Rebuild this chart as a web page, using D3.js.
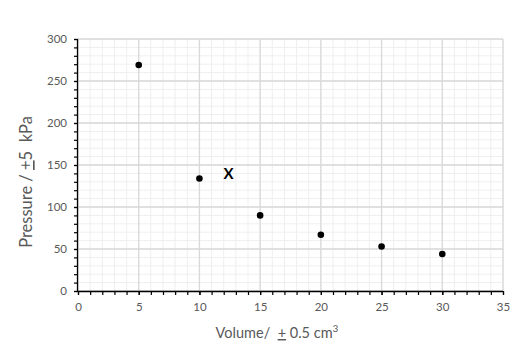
<!DOCTYPE html>
<html>
<head>
<meta charset="utf-8">
<script src="https://cdn.jsdelivr.net/npm/d3@7"></script>
<style>
  html, body { margin: 0; padding: 0; background: #fff; }
  svg { display: block; }
  text { font-family: Lato, "Open Sans", sans-serif; fill: #595959; }
  .title { white-space: pre; }
</style>
</head>
<body>
<svg id="chart" width="528" height="345"></svg>
<script>
// Volume (cm³) and pressure (kPa) readings
const volume = [5, 10, 15, 20, 25, 30];
const pressure = [269, 134, 90, 67, 53, 44];
const xTicks = [0, 5, 10, 15, 20, 25, 30, 35];
const yTicks = [0, 50, 100, 150, 200, 250, 300];
// Anomalous point marker
const anomaly = [{ v: 12.4, p: 141, label: "X" }];

const svg = d3.select("#chart");
const plotLeft = 78, plotRight = 503, plotTop = 39, plotBottom = 291;

const x = d3.scaleLinear().domain([0, 35]).range([plotLeft, plotRight]);
const y = d3.scaleLinear().domain([0, 300]).range([plotBottom, plotTop]);

const xMinor = d3.range(0, 36, 1);
const yMinor = d3.range(0, 301, 10);

// minor grid
const grid = svg.append("g");
grid.append("g").selectAll("line").data(xMinor).join("line")
  .attr("x1", d => x(d)).attr("x2", d => x(d))
  .attr("y1", plotTop).attr("y2", plotBottom)
  .attr("stroke", "#efefef").attr("stroke-width", 1);
grid.append("g").selectAll("line").data(yMinor).join("line")
  .attr("x1", plotLeft).attr("x2", plotRight)
  .attr("y1", d => y(d)).attr("y2", d => y(d))
  .attr("stroke", "#efefef").attr("stroke-width", 1);
// major grid
grid.append("g").selectAll("line").data(xTicks).join("line")
  .attr("x1", d => x(d)).attr("x2", d => x(d))
  .attr("y1", plotTop).attr("y2", plotBottom)
  .attr("stroke", "#d9d9d9").attr("stroke-width", 1.3);
grid.append("g").selectAll("line").data(yTicks).join("line")
  .attr("x1", plotLeft).attr("x2", plotRight)
  .attr("y1", d => y(d)).attr("y2", d => y(d))
  .attr("stroke", "#d9d9d9").attr("stroke-width", 1.3);

// minor ticks
const xMinorAxis = d3.axisBottom(x).tickValues(xMinor).tickSize(4).tickFormat("");
const yMinorAxis = d3.axisLeft(y).tickValues(yMinor).tickSize(4).tickFormat("");
svg.append("g").attr("transform", `translate(0,${plotBottom})`).call(xMinorAxis)
  .call(g => g.select(".domain").remove())
  .selectAll("line").attr("stroke", "#000").attr("stroke-width", 1.2);
svg.append("g").attr("transform", `translate(${plotLeft},0)`).call(yMinorAxis)
  .call(g => g.select(".domain").remove())
  .selectAll("line").attr("stroke", "#000").attr("stroke-width", 1.2);

// main axes
const xAxis = d3.axisBottom(x).tickValues(xTicks).tickSize(4).tickPadding(8);
const yAxis = d3.axisLeft(y).tickValues(yTicks).tickSize(4).tickPadding(7);
const gx = svg.append("g").attr("transform", `translate(0,${plotBottom})`).call(xAxis);
const gy = svg.append("g").attr("transform", `translate(${plotLeft},0)`).call(yAxis);
[gx, gy].forEach(g => {
  g.select(".domain").attr("stroke", "#000").attr("stroke-width", 1.3);
  g.selectAll(".tick line").attr("stroke", "#000").attr("stroke-width", 1.2);
  g.selectAll(".tick text").style("font-family", "Lato, 'Open Sans', sans-serif")
    .style("font-size", "11.5px").attr("fill", "#595959");
});
gx.select(".domain").attr("d", `M${plotLeft},0.5H${plotRight}`);
gy.select(".domain").attr("d", `M-0.5,${plotTop}V${plotBottom}`);

// data points
svg.append("g").selectAll("circle").data(volume).join("circle")
  .attr("cx", d => x(d)).attr("cy", (d, i) => y(pressure[i]))
  .attr("r", 3.3).attr("fill", "#000");

// anomaly label
svg.append("g").selectAll("text").data(anomaly).join("text")
  .attr("x", d => x(d.v)).attr("y", d => y(d.p))
  .attr("text-anchor", "middle").attr("dominant-baseline", "central")
  .style("font-size", "15px").style("font-weight", "bold").style("fill", "#000")
  .text(d => d.label);

// axis titles
const xt = svg.append("text").attr("class", "title").attr("x", 277).attr("y", 338)
  .attr("text-anchor", "middle").style("font-size", "14.5px");
xt.append("tspan").text("Volume/  ");
xt.append("tspan").attr("text-decoration", "underline").text("+");
xt.append("tspan").text(" 0.5 cm");
xt.append("tspan").attr("dy", -6).style("font-size", "10px").text("3");

const yt = svg.append("text").attr("class", "title")
  .attr("transform", `translate(32,182) rotate(-90)`)
  .attr("text-anchor", "middle").style("font-size", "16.5px");
yt.append("tspan").text("Pressure / ");
yt.append("tspan").attr("text-decoration", "underline").text("+");
yt.append("tspan").text("5  kPa");
</script>
</body>
</html>
